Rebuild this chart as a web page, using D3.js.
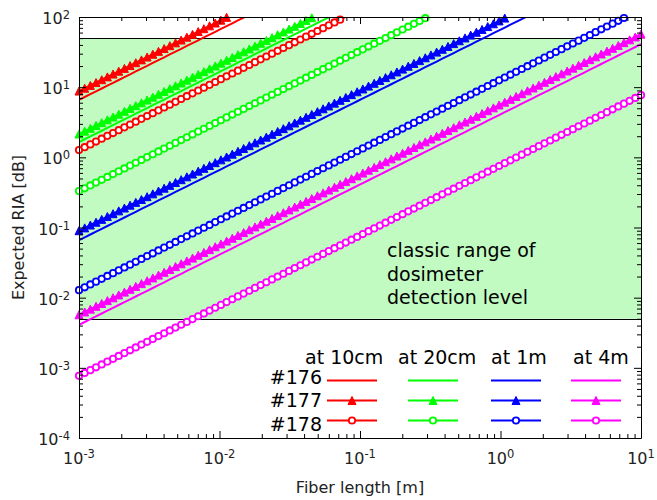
<!DOCTYPE html>
<html>
<head>
<meta charset="utf-8">
<script src="https://cdn.jsdelivr.net/npm/d3@7"></script>
<style>
  html, body { margin: 0; padding: 0; background: #fff; }
  svg { display: block; font-family: "DejaVu Sans", sans-serif; }
</style>
</head>
<body>
<svg id="chart" width="657" height="500"></svg>
<script>
// Irradiation positions (columns) and their colours
const positions = ["at 10cm", "at 20cm", "at 1m", "at 4m"];
const positionColors = ["#ff0000", "#00ff00", "#0000ff", "#ff00ff"];

// Fibers (rows): #176 plain line, #177 triangles, #178 open circles
const fibers = ["#176", "#177", "#178"];
const fiberMarkers = ["none", "triangle", "circle"];

// Expected RIA [dB] for a 1 mm fiber, per position; RIA scales with fiber length
const ria176 = [6.6, 1.65, 0.066, 0.0041];
const ria177 = [8.8, 2.15, 0.090, 0.0057];
const ria178 = [1.27, 0.33, 0.0128, 0.00077];
const riaByFiber = [ria176, ria177, ria178];

// Fiber lengths [m]: 100 log-spaced samples from 1 mm to 10 m
const lengthRange = [1e-3, 10];
const sampleCount = 100;

// Dosimeter detection band [dB]
const bandRange = [5e-3, 50];
const bandNote = ["classic range of", "dosimeter", "detection level"];

// Axis ticks
const xMajorTicks = [1e-3, 1e-2, 1e-1, 1, 10];
const xTickExponents = ["-3", "-2", "-1", "0", "1"];
const yMajorTicks = [1e-4, 1e-3, 1e-2, 1e-1, 1, 10, 100];
const yTickExponents = ["-4", "-3", "-2", "-1", "0", "1", "2"];
const xTitle = "Fiber length [m]";
const yTitle = "Expected RIA [dB]";

// ---- layout ----
const plot = { left: 79, right: 641, top: 17, bottom: 438 };
const svg = d3.select("#chart");

const x = d3.scaleLog().domain([1e-3, 10]).range([plot.left, plot.right]);
const y = d3.scaleLog().domain([1e-4, 100]).range([plot.bottom, plot.top]);

function minorTicks(scale) {
  const [a, b] = scale.domain();
  const out = [];
  for (let e = Math.round(Math.log10(a)); e < Math.round(Math.log10(b)); e++) {
    for (let k = 2; k <= 9; k++) out.push(k * Math.pow(10, e));
  }
  return out;
}

// Length samples, evenly spaced in log space
const lg0 = Math.log10(lengthRange[0]), lg1 = Math.log10(lengthRange[1]);
const lengths = d3.range(sampleCount).map(i => Math.pow(10, lg0 + (lg1 - lg0) * i / (sampleCount - 1)));

svg.append("defs").append("clipPath").attr("id", "plotClip")
  .append("rect")
  .attr("x", plot.left).attr("y", plot.top)
  .attr("width", plot.right - plot.left).attr("height", plot.bottom - plot.top);

// Detection band
svg.append("rect")
  .attr("x", x(lengthRange[0]))
  .attr("y", y(bandRange[1]))
  .attr("width", x(lengthRange[1]) - x(lengthRange[0]))
  .attr("height", y(bandRange[0]) - y(bandRange[1]))
  .attr("fill", "#c1fbc1");
[bandRange[0], bandRange[1]].forEach(v => {
  svg.append("line")
    .attr("x1", plot.left).attr("x2", plot.right)
    .attr("y1", Math.round(y(v)) + 0.5).attr("y2", Math.round(y(v)) + 0.5)
    .attr("stroke", "#000").attr("stroke-width", 1);
});

// Band annotation
const note = svg.append("text")
  .attr("x", 387).attr("y", 257)
  .attr("font-size", 19).attr("fill", "#000");
bandNote.forEach((t, i) => {
  note.append("tspan").attr("x", 387).attr("dy", i === 0 ? 0 : 23.6).text(t);
});

// Series
const lineGen = d3.line().x(d => x(d.len)).y(d => y(d.ria));
const triPath = s => `M0,${-s / 2}L${s / 2},${s / 2}L${-s / 2},${s / 2}Z`;

function drawMarker(g, kind, color, cx, cy) {
  if (kind === "triangle") {
    g.append("path").attr("d", triPath(8))
      .attr("transform", `translate(${cx},${cy})`)
      .attr("fill", color).attr("stroke", color).attr("stroke-width", 1);
  } else if (kind === "circle") {
    g.append("circle").attr("cx", cx).attr("cy", cy).attr("r", 3.2)
      .attr("fill", "#fff").attr("stroke", color).attr("stroke-width", 1.8);
  }
}

const seriesLayer = svg.append("g");
positions.forEach((pos, p) => {
  fibers.forEach((fib, f) => {
    const color = positionColors[p];
    const base = riaByFiber[f][p];
    const pts = lengths.map(len => ({ len, ria: base * len / lengthRange[0] }));
    const g = seriesLayer.append("g");
    g.append("path")
      .attr("clip-path", "url(#plotClip)")
      .attr("d", lineGen(pts))
      .attr("fill", "none").attr("stroke", color).attr("stroke-width", 2);
    const kind = fiberMarkers[f];
    if (kind !== "none") {
      pts.filter(d => d.ria <= 100).forEach(d => drawMarker(g, kind, color, x(d.len), y(d.ria)));
    }
  });
});

// Axes: inward ticks on all four sides
function addAxis(axisFn, scale, transform, majors) {
  const gMaj = svg.append("g").attr("transform", transform)
    .call(axisFn(scale).tickValues(majors).tickSizeInner(-7).tickSizeOuter(0).tickFormat(""));
  gMaj.select(".domain").attr("stroke", "#000");
  gMaj.selectAll(".tick line").attr("stroke", "#000");
  const gMin = svg.append("g").attr("transform", transform)
    .call(axisFn(scale).tickValues(minorTicks(scale)).tickSizeInner(-4).tickSizeOuter(0).tickFormat(""));
  gMin.select(".domain").remove();
  gMin.selectAll(".tick line").attr("stroke", "#000");
}
addAxis(d3.axisBottom, x, `translate(0,${plot.bottom})`, xMajorTicks);
addAxis(d3.axisTop, x, `translate(0,${plot.top})`, xMajorTicks);
addAxis(d3.axisLeft, y, `translate(${plot.left},0)`, yMajorTicks);
addAxis(d3.axisRight, y, `translate(${plot.right},0)`, yMajorTicks);

// Tick labels as 10^n
xMajorTicks.forEach((v, i) => {
  const t = svg.append("text")
    .attr("x", x(v)).attr("y", plot.bottom + 26)
    .attr("text-anchor", "middle").attr("font-size", 16).attr("fill", "#222");
  t.append("tspan").text("10");
  t.append("tspan").attr("font-size", 11.5).attr("dy", -6).text(xTickExponents[i]);
});
yMajorTicks.forEach((v, i) => {
  const t = svg.append("text")
    .attr("x", plot.left - 9).attr("y", y(v) + 7)
    .attr("text-anchor", "end").attr("font-size", 16).attr("fill", "#222");
  t.append("tspan").text("10");
  t.append("tspan").attr("font-size", 11.5).attr("dy", -5).text(yTickExponents[i]);
});

// Axis titles
svg.append("text")
  .attr("x", (plot.left + plot.right) / 2).attr("y", 493)
  .attr("text-anchor", "middle").attr("font-size", 16).attr("fill", "#222")
  .text(xTitle);
svg.append("text")
  .attr("transform", `translate(24,${(plot.top + plot.bottom) / 2}) rotate(-90)`)
  .attr("text-anchor", "middle").attr("font-size", 16).attr("fill", "#222")
  .text(yTitle);

// Legend: fibers by row, positions by column
const legend = svg.append("g");
const legendCols = [327, 408, 491, 571];
const legendHeadX = [305, 398, 491, 573];
const legendRowY = [380.5, 400.5, 420.5];
const legendLabelY = [383.5, 406.5, 430.5];
const segLen = 50;
positions.forEach((pos, p) => {
  legend.append("text")
    .attr("x", legendHeadX[p]).attr("y", 363.5)
    .attr("font-size", 19).attr("fill", "#000").text(pos);
});
fibers.forEach((fib, f) => {
  legend.append("text")
    .attr("x", 322).attr("y", legendLabelY[f])
    .attr("text-anchor", "end").attr("font-size", 19).attr("fill", "#000").text(fib);
  positions.forEach((pos, p) => {
    const color = positionColors[p];
    const x0 = legendCols[p];
    legend.append("line")
      .attr("x1", x0).attr("x2", x0 + segLen)
      .attr("y1", legendRowY[f]).attr("y2", legendRowY[f])
      .attr("stroke", color).attr("stroke-width", 2);
    drawMarker(legend, fiberMarkers[f], color, x0 + segLen / 2, legendRowY[f]);
  });
});
</script>
</body>
</html>
